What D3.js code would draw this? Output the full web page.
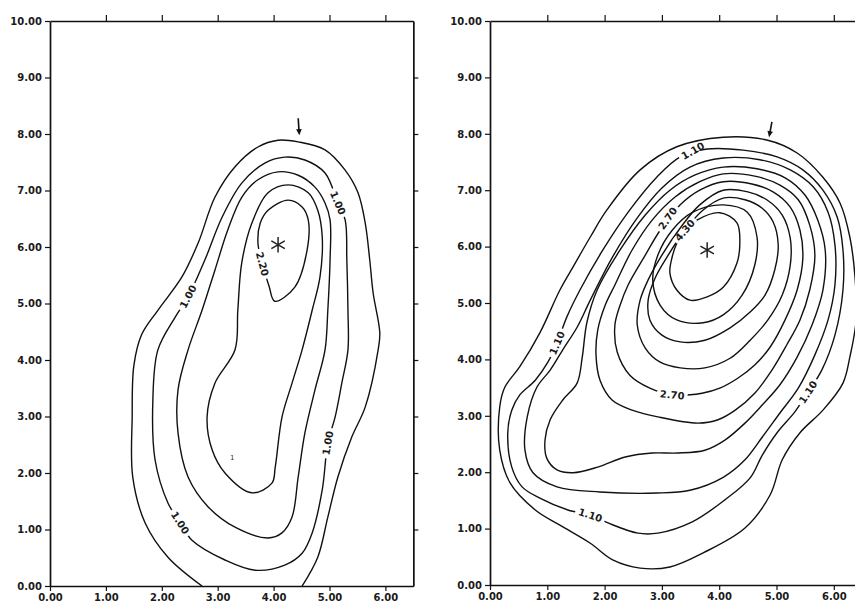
<!DOCTYPE html>
<html>
<head>
<meta charset="utf-8">
<script src="https://cdn.jsdelivr.net/npm/d3@7"></script>
<style>
  body { margin: 0; background: #fff; }
  svg { display: block; }
</style>
</head>
<body>
<svg id="svg" width="855" height="605"></svg>
<script>
// axis ticks
const xTicks = [0, 1, 2, 3, 4, 5, 6];
const yTicks = [0, 1, 2, 3, 4, 5, 6, 7, 8, 9, 10];

// left panel: outer contour is cut by the x axis
const leftOpen = [
  [2.72, 0.00], [2.11, 0.51], [1.70, 1.12], [1.48, 1.93], [1.47, 2.99], [1.50, 3.90],
  [1.64, 4.45], [1.93, 4.88], [2.36, 5.47], [2.65, 6.07], [2.95, 6.88], [3.31, 7.42],
  [3.72, 7.77], [4.08, 7.89], [4.44, 7.86], [4.92, 7.72], [5.28, 7.36], [5.51, 6.96],
  [5.64, 6.42], [5.72, 5.77], [5.78, 5.19], [5.90, 4.48], [5.87, 4.18], [5.64, 3.17],
  [5.40, 2.64], [5.15, 1.93], [4.97, 1.22], [4.79, 0.51], [4.51, 0.00]
];
const leftB = [
  [1.93, 4.18], [2.24, 4.76], [2.47, 5.12], [2.77, 5.77], [3.08, 6.53], [3.43, 7.13],
  [3.85, 7.49], [4.20, 7.59], [4.56, 7.54], [4.92, 7.31], [5.15, 6.78], [5.28, 6.48],
  [5.31, 5.77], [5.33, 4.88], [5.33, 4.18], [5.22, 3.59], [5.10, 2.99], [4.97, 2.53],
  [4.87, 1.70], [4.69, 0.94], [4.51, 0.58], [4.20, 0.37], [3.67, 0.28], [3.13, 0.46],
  [2.54, 0.81], [2.33, 1.12], [2.11, 1.47], [1.88, 2.23], [1.84, 3.29]
];
const leftC = [
  [2.47, 4.18], [2.72, 4.88], [2.95, 5.59], [3.18, 6.30], [3.43, 6.88], [3.72, 7.19],
  [4.08, 7.33], [4.44, 7.27], [4.74, 7.06], [4.92, 6.78], [5.01, 6.48], [5.01, 5.77],
  [4.97, 4.88], [4.92, 4.18], [4.74, 3.47], [4.56, 2.71], [4.44, 1.93], [4.33, 1.22],
  [4.15, 0.94], [3.90, 0.85], [3.31, 1.04], [2.83, 1.40], [2.47, 1.93], [2.29, 2.71],
  [2.29, 3.47]
];
const leftD = [
  [3.31, 4.18], [3.36, 4.88], [3.43, 5.72], [3.61, 6.42], [3.90, 6.96], [4.26, 7.10],
  [4.62, 6.96], [4.79, 6.65], [4.87, 6.18], [4.83, 5.47], [4.69, 4.88], [4.51, 4.18],
  [4.33, 3.59], [4.15, 2.99], [4.03, 2.11], [3.97, 1.82], [3.61, 1.65], [3.13, 2.00],
  [2.90, 2.41], [2.81, 2.99], [2.95, 3.59]
];
const leftE = [
  [3.72, 6.07], [3.76, 6.42], [3.90, 6.65], [4.26, 6.83], [4.51, 6.71], [4.62, 6.48],
  [4.60, 5.95], [4.38, 5.29], [4.02, 5.04], [3.92, 5.30], [3.80, 5.70]
];
const leftRings = [leftB, leftC, leftD, leftE];

// right panel: 10 closed contours, outer (0.70) to inner (4.30)
const right070 = [
  [4.07, 7.94], [4.83, 7.89], [5.36, 7.66], [5.81, 7.23], [6.11, 6.77], [6.28, 6.17],
  [6.37, 5.46], [6.39, 4.70], [6.28, 4.04], [6.16, 3.58], [5.81, 3.10], [5.41, 2.70],
  [5.10, 2.22], [4.89, 1.60], [4.45, 1.01], [3.72, 0.57], [3.14, 0.32], [2.62, 0.30],
  [2.15, 0.44], [1.75, 0.74], [1.22, 1.06], [0.79, 1.33], [0.35, 1.81], [0.17, 2.39],
  [0.17, 3.16], [0.26, 3.51], [0.52, 3.87], [0.87, 4.47], [1.22, 5.23], [1.45, 5.64],
  [1.75, 6.17], [2.04, 6.65], [2.62, 7.36], [3.26, 7.77]
];
const right110 = [
  [3.79, 7.73], [4.42, 7.71], [5.01, 7.59], [5.46, 7.36], [5.81, 7.00], [6.06, 6.52],
  [6.16, 5.94], [6.16, 5.23], [6.02, 4.43], [5.79, 3.81], [5.55, 3.42], [5.32, 3.07],
  [5.01, 2.70], [4.75, 2.30], [4.54, 1.90], [4.10, 1.51], [3.53, 1.12], [2.93, 0.92],
  [2.58, 0.92], [2.06, 1.10], [1.75, 1.24], [1.36, 1.33], [0.87, 1.54], [0.56, 1.74],
  [0.38, 2.09], [0.31, 2.70], [0.38, 3.10], [0.52, 3.37], [0.79, 3.63], [1.01, 3.95],
  [1.17, 4.29], [1.34, 4.75], [1.57, 5.23], [1.97, 5.94], [2.44, 6.65], [2.91, 7.23],
  [3.32, 7.59]
];
const right150 = [
  [4.07, 7.57], [4.71, 7.54], [5.24, 7.36], [5.64, 7.06], [5.90, 6.61], [6.02, 6.03],
  [6.02, 5.32], [5.90, 4.70], [5.67, 4.08], [5.38, 3.49], [5.06, 3.05], [4.75, 2.62],
  [4.45, 2.22], [4.07, 1.91], [3.49, 1.68], [2.91, 1.63], [1.92, 1.65], [1.17, 1.74],
  [0.75, 1.99], [0.61, 2.39], [0.65, 2.98], [0.82, 3.51], [1.05, 3.81], [1.27, 4.17],
  [1.52, 4.57], [1.75, 5.05], [2.13, 5.80], [2.57, 6.51], [3.00, 7.04], [3.49, 7.41]
];
const right190 = [
  [4.07, 7.41], [4.66, 7.38], [5.15, 7.22], [5.50, 6.91], [5.72, 6.47], [5.85, 5.94],
  [5.81, 5.23], [5.62, 4.61], [5.36, 4.04], [5.06, 3.55], [4.75, 3.19], [4.45, 2.87],
  [4.10, 2.57], [3.75, 2.39], [3.28, 2.34], [2.83, 2.34], [2.36, 2.27], [1.88, 2.09],
  [1.45, 1.99], [1.17, 2.04], [0.99, 2.25], [0.96, 2.57], [1.05, 2.93], [1.27, 3.28],
  [1.52, 3.58], [1.61, 4.04], [1.69, 4.65], [1.87, 5.23], [2.27, 5.94], [2.71, 6.56],
  [3.14, 7.00], [3.58, 7.27]
];
const right230 = [
  [4.07, 7.29], [4.62, 7.25], [5.06, 7.09], [5.38, 6.83], [5.58, 6.38], [5.67, 5.85],
  [5.58, 5.23], [5.41, 4.70], [5.18, 4.26], [4.92, 3.81], [4.62, 3.40], [4.28, 3.10],
  [3.98, 2.93], [3.63, 2.87], [2.93, 2.98], [2.48, 3.10], [2.13, 3.28], [1.92, 3.63],
  [1.85, 4.08], [1.88, 4.52], [2.01, 4.96], [2.18, 5.32], [2.48, 5.94], [2.83, 6.47],
  [3.23, 6.88], [3.66, 7.15]
];
const right270 = [
  [4.07, 7.15], [4.57, 7.11], [4.94, 6.97], [5.24, 6.70], [5.41, 6.29], [5.46, 5.80],
  [5.36, 5.23], [5.15, 4.70], [4.89, 4.22], [4.62, 3.90], [4.33, 3.67], [4.01, 3.49],
  [3.70, 3.40], [3.18, 3.37], [2.79, 3.49], [2.44, 3.72], [2.22, 4.13], [2.18, 4.61],
  [2.27, 4.96], [2.41, 5.32], [2.71, 5.85], [2.97, 6.29], [3.32, 6.74], [3.66, 7.00]
];
const right310 = [
  [4.07, 7.00], [4.50, 6.97], [4.83, 6.83], [5.10, 6.56], [5.24, 6.15], [5.24, 5.67],
  [5.10, 5.14], [4.85, 4.70], [4.54, 4.34], [4.19, 4.02], [3.75, 3.85], [3.32, 3.85],
  [2.97, 3.95], [2.71, 4.20], [2.57, 4.61], [2.62, 5.05], [2.76, 5.41], [3.00, 5.85],
  [3.32, 6.33], [3.66, 6.74]
];
const right350 = [
  [4.07, 6.86], [4.45, 6.83], [4.75, 6.68], [4.94, 6.44], [5.03, 6.03], [4.97, 5.59],
  [4.80, 5.14], [4.54, 4.84], [4.19, 4.56], [3.75, 4.34], [3.32, 4.31], [3.00, 4.43],
  [2.79, 4.70], [2.76, 5.05], [2.88, 5.44], [3.11, 5.85], [3.40, 6.29], [3.72, 6.65]
];
const right390 = [
  [4.07, 6.74], [4.49, 6.61], [4.66, 6.17], [4.62, 5.67], [4.40, 5.14], [4.07, 4.79],
  [3.72, 4.65], [3.26, 4.70], [2.97, 4.96], [2.84, 5.41], [2.93, 5.85], [3.18, 6.29],
  [3.54, 6.61]
];
const right430 = [
  [3.61, 6.47], [4.01, 6.60], [4.31, 6.42], [4.36, 6.06], [4.31, 5.71], [4.07, 5.28],
  [3.79, 5.11], [3.49, 5.05], [3.26, 5.23], [3.14, 5.53], [3.18, 5.82], [3.26, 6.06],
  [3.40, 6.29]
];
const rightRings = [right070, right110, right150, right190, right230,
                    right270, right310, right350, right390, right430];

// contour labels: text, ring, anchor point
const leftLabels = [
  { text: "1.00", ring: leftB, at: [2.47, 5.12] },
  { text: "1.00", ring: leftB, at: [5.15, 6.78] },
  { text: "1.00", ring: leftB, at: [4.97, 2.53] },
  { text: "1.00", ring: leftB, at: [2.33, 1.12] },
  { text: "2.20", ring: leftE, at: [3.80, 5.70] }
];
const rightLabels = [
  { text: "1.10", ring: right110, at: [3.54, 7.70] },
  { text: "1.10", ring: right110, at: [1.17, 4.29] },
  { text: "1.10", ring: right110, at: [5.55, 3.42] },
  { text: "1.10", ring: right110, at: [1.75, 1.24] },
  { text: "2.70", ring: right270, at: [3.10, 6.50] },
  { text: "2.70", ring: right270, at: [3.18, 3.37] },
  { text: "4.30", ring: right430, at: [3.40, 6.29] }
];

// peak markers and arrows
const leftPeak = [4.08, 6.04];
const rightPeak = [3.79, 5.94];
const leftArrow = [[4.44, 8.28], [4.46, 7.98]];
const rightArrow = [[4.92, 8.21], [4.87, 7.94]];
const leftStray = { text: "1", at: [3.26, 2.28] };

const svg = d3.select("#svg");
const FONT = "'DejaVu Sans', 'Liberation Sans', sans-serif";

function drawPanel(p) {
  const x = d3.scaleLinear().domain([0, 6.5]).range([p.left, p.left + p.width]);
  const y = d3.scaleLinear().domain([0, 10]).range([p.top + p.height, p.top]);
  const g = svg.append("g");

  g.append("clipPath").attr("id", p.id)
    .append("rect")
    .attr("x", p.left).attr("y", p.top)
    .attr("width", p.width).attr("height", p.height);

  const plot = g.append("g").attr("clip-path", `url(#${p.id})`);

  const closed = d3.line().x(d => x(d[0])).y(d => y(d[1]))
    .curve(d3.curveCatmullRomClosed.alpha(0.5));
  const open = d3.line().x(d => x(d[0])).y(d => y(d[1]))
    .curve(d3.curveCatmullRom.alpha(0.5));

  p.open.forEach(r => {
    plot.append("path").attr("d", open(r))
      .attr("fill", "none").attr("stroke", "#111").attr("stroke-width", 1.4);
  });
  p.rings.forEach(r => {
    plot.append("path").attr("d", closed(r))
      .attr("fill", "none").attr("stroke", "#111").attr("stroke-width", 1.4);
  });

  // labels along the contour, angle from local tangent
  p.labels.forEach(l => {
    const r = l.ring;
    let best = 0, bd = Infinity;
    r.forEach((pt, i) => {
      const dd = (pt[0] - l.at[0]) ** 2 + (pt[1] - l.at[1]) ** 2;
      if (dd < bd) { bd = dd; best = i; }
    });
    const a = r[(best - 1 + r.length) % r.length];
    const b = r[(best + 1) % r.length];
    let ang = Math.atan2(y(b[1]) - y(a[1]), x(b[0]) - x(a[0])) * 180 / Math.PI;
    if (ang > 90) ang -= 180;
    if (ang < -90) ang += 180;
    const lg = plot.append("g")
      .attr("transform", `translate(${x(l.at[0])},${y(l.at[1])}) rotate(${ang})`);
    const bg = lg.append("rect").attr("fill", "#fff");
    const t = lg.append("text").text(l.text)
      .attr("text-anchor", "middle").attr("dy", "0.36em")
      .attr("font-family", FONT).attr("font-weight", "bold")
      .attr("font-size", 10).attr("fill", "#1a1a1a");
    const w = t.node().getComputedTextLength();
    bg.attr("x", -w / 2 - 3).attr("y", -3).attr("width", w + 6).attr("height", 6);
  });

  // asterisk at the peak
  plot.append("path")
    .attr("d", d3.symbol(d3.symbolAsterisk, 170)())
    .attr("transform", `translate(${x(p.peak[0])},${y(p.peak[1])})`)
    .attr("fill", "none").attr("stroke", "#222").attr("stroke-width", 1.5);

  // arrow
  const [t0, t1] = p.arrow;
  const ax0 = x(t0[0]), ay0 = y(t0[1]), ax1 = x(t1[0]), ay1 = y(t1[1]);
  const th = Math.atan2(ay1 - ay0, ax1 - ax0);
  g.append("line")
    .attr("x1", ax0).attr("y1", ay0)
    .attr("x2", ax1 - 4 * Math.cos(th)).attr("y2", ay1 - 4 * Math.sin(th))
    .attr("stroke", "#111").attr("stroke-width", 1.6);
  const hp = d3.path();
  hp.moveTo(ax1, ay1);
  hp.lineTo(ax1 - 6 * Math.cos(th) + 2.8 * Math.sin(th), ay1 - 6 * Math.sin(th) - 2.8 * Math.cos(th));
  hp.lineTo(ax1 - 6 * Math.cos(th) - 2.8 * Math.sin(th), ay1 - 6 * Math.sin(th) + 2.8 * Math.cos(th));
  hp.closePath();
  g.append("path").attr("d", hp.toString()).attr("fill", "#111");

  if (p.stray) {
    plot.append("text").text(p.stray.text)
      .attr("x", x(p.stray.at[0])).attr("y", y(p.stray.at[1]))
      .attr("text-anchor", "middle").attr("dy", "0.35em")
      .attr("font-family", FONT).attr("font-size", 7).attr("fill", "#333");
  }

  // axes / frame
  const fmt = d3.format(".2f");
  const axes = [
    g.append("g").attr("transform", `translate(${p.left},0)`)
      .call(d3.axisLeft(y).tickValues(yTicks).tickFormat(fmt).tickSize(5).tickSizeOuter(0)),
    g.append("g").attr("transform", `translate(0,${p.top + p.height})`)
      .call(d3.axisBottom(x).tickValues(xTicks).tickFormat(fmt).tickSize(5).tickSizeOuter(0)),
    g.append("g").attr("transform", `translate(0,${p.top})`)
      .call(d3.axisTop(x).tickValues(xTicks.slice(1)).tickFormat("").tickSize(6).tickSizeOuter(0)),
    g.append("g").attr("transform", `translate(${p.left + p.width},0)`)
      .call(d3.axisRight(y).tickValues(yTicks.slice(1, -1)).tickFormat("").tickSize(5).tickSizeOuter(0))
  ];
  axes.forEach(a => {
    a.select(".domain").attr("stroke", "#111").attr("stroke-width", 1.7);
    a.selectAll(".tick line").attr("stroke", "#111").attr("stroke-width", 1.2);
    a.selectAll(".tick text")
      .attr("font-family", FONT).attr("font-weight", "bold")
      .attr("font-size", 10).attr("fill", "#1a1a1a");
  });
}

drawPanel({
  id: "clipL", left: 50, top: 21, width: 6.5 * 55.9, height: 565,
  open: [leftOpen], rings: leftRings, labels: leftLabels,
  peak: leftPeak, arrow: leftArrow, stray: leftStray
});
drawPanel({
  id: "clipR", left: 490, top: 21, width: 6.5 * 57.3, height: 564,
  open: [], rings: rightRings, labels: rightLabels,
  peak: rightPeak, arrow: rightArrow
});
</script>
</body>
</html>
